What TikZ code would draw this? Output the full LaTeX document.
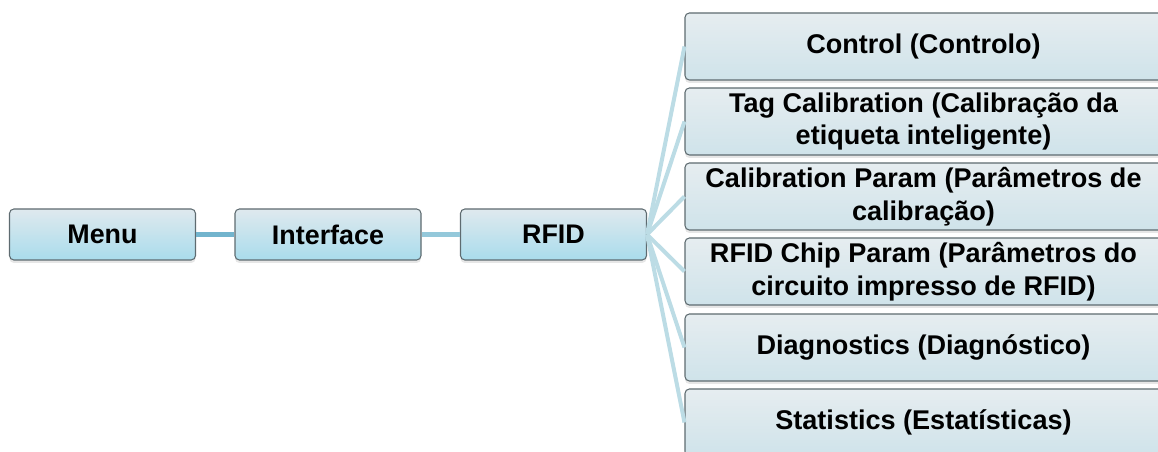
\documentclass[tikz,border=0pt]{standalone}
\usepackage{fontspec}
\setmainfont{Liberation Sans}
\usetikzlibrary{positioning, shadows}

\definecolor{boxtop}{HTML}{DFE9EE}
\definecolor{boxbot}{HTML}{A9DCEC}
\definecolor{subtop}{HTML}{E6EDF0}
\definecolor{subbot}{HTML}{CFE3EA}
\definecolor{boxline}{HTML}{5E6B70}
\definecolor{linkdark}{HTML}{72B4CD}
\definecolor{linkmid}{HTML}{94C8DA}
\definecolor{linkfan}{HTML}{BCDCE5}

\begin{document}
\begin{tikzpicture}[
    font=\fontsize{15.4}{18.6}\selectfont\bfseries,
    box/.style={rectangle, rounded corners=2.5pt, draw=boxline, line width=0.6pt, top color=boxtop, bottom color=boxbot, minimum height=1.02cm, minimum width=3.72cm, align=center, drop shadow={opacity=0.2, shadow xshift=0pt, shadow yshift=-0.06cm}},
    subbox/.style={box, top color=subtop, bottom color=subbot, minimum height=1.34cm, minimum width=9.54cm, inner sep=1pt},
    fan/.style={linkfan, line width=0.08cm}
]
    \useasboundingbox (0,0) rectangle (23.16,9.04);
    \clip (0,0) rectangle (23.16,9.04);

    % Main path
    \node[box, font=\fontsize{15.3}{18}\selectfont\bfseries] (menu) at (2.05,4.35) {Menu};
    \node[box, font=\fontsize{15.3}{18}\selectfont\bfseries] (iface) at (6.56,4.35) {Interface};
    \node[box, font=\fontsize{15.3}{18}\selectfont\bfseries] (rfid) at (11.07,4.35) {RFID};

    % RFID submenu
    \node[subbox] (ctrl) at (18.47,8.11) {Control (Controlo)};
    \node[subbox] (tagcal) at (18.47,6.61) {Tag Calibration (Calibração da\\etiqueta inteligente)};
    \node[subbox] (calparam) at (18.47,5.11) {Calibration Param (Parâmetros de\\calibração)};
    \node[subbox] (chipparam) at (18.47,3.61) {RFID Chip Param (Parâmetros do\\circuito impresso de RFID)};
    \node[subbox] (diag) at (18.47,2.09) {Diagnostics (Diagnóstico)};
    \node[subbox] (stats) at (18.47,0.59) {Statistics (Estatísticas)};

    % Links
    \draw[linkdark, line width=0.1cm] (menu.east) -- (iface.west);
    \draw[linkmid, line width=0.1cm] (iface.east) -- (rfid.west);
    \draw[fan] (rfid.east) -- (ctrl.west);
    \draw[fan] (rfid.east) -- (tagcal.west);
    \draw[fan] (rfid.east) -- (calparam.west);
    \draw[fan] (rfid.east) -- (chipparam.west);
    \draw[fan] (rfid.east) -- (diag.west);
    \draw[fan] (rfid.east) -- (stats.west);
\end{tikzpicture}
\end{document}
